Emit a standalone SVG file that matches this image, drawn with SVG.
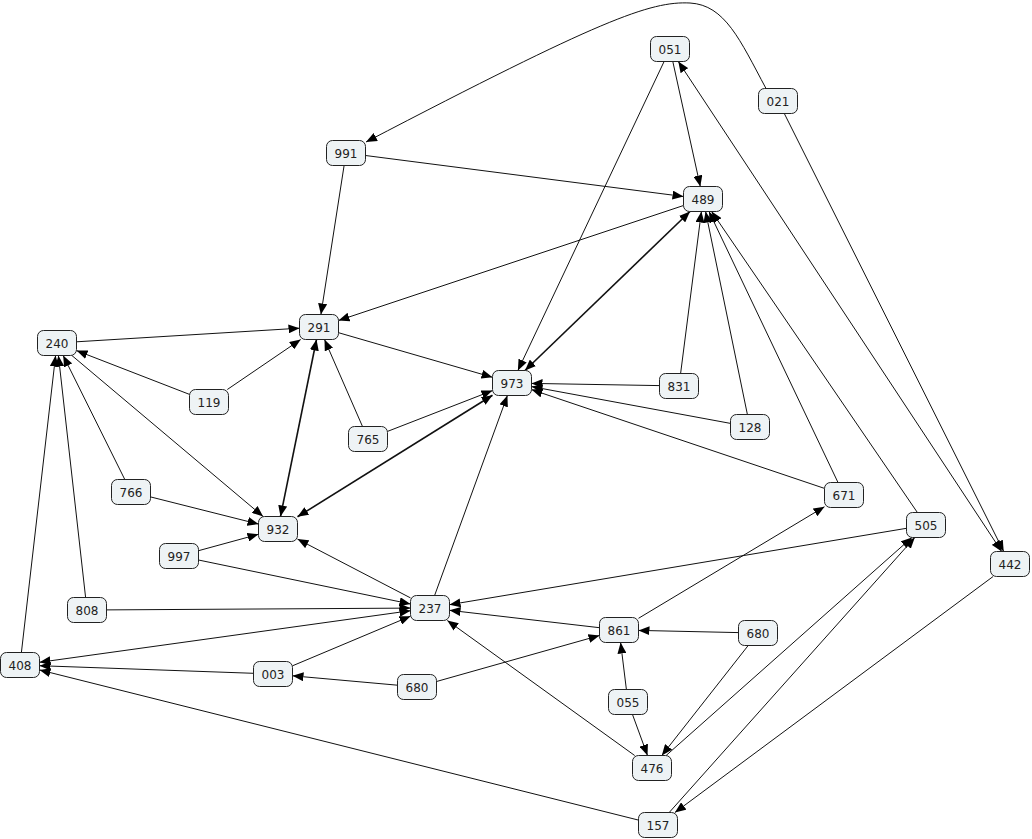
<svg xmlns="http://www.w3.org/2000/svg" width="1032" height="839" viewBox="0 0 1032 839">
<style>
.e{fill:none;stroke:#111;stroke-width:1;marker-end:url(#a)}
.t{fill:none;stroke:#111;stroke-width:1;marker-end:url(#a);marker-start:url(#a)}
.b{fill:none;stroke:#111;stroke-width:1.6;marker-end:url(#a);marker-start:url(#a)}
.n rect{fill:#eef3f5;stroke:#222;stroke-width:1}
.n text{font-family:"DejaVu Sans",Verdana,sans-serif;font-size:12px;fill:#222;text-anchor:middle}
</style>
<defs>
<marker id="a" markerUnits="userSpaceOnUse" markerWidth="11" markerHeight="9" viewBox="0 0 11 9" refX="11" refY="4.5" orient="auto-start-reverse"><path d="M0,0 L11,4.5 L0,9 z" fill="#000"/></marker>
</defs>
<rect width="1032" height="839" fill="#fff"/>
<g id="connectors">
<path class="e" d="M766,88.5 C740,40 725,5 690,3 C650,1 600,20 366,142"/>
<path class="e" d="M784.3,113.5 L1003.7,551.5"/>
<path class="t" d="M678.3,61.5 L1001.7,551.5"/>
<path class="e" d="M672.8,61.5 L700.3,186.5"/>
<path class="e" d="M664.1,61.5 L517.9,370.5"/>
<path class="e" d="M365.5,155.5 L683.5,196.5"/>
<path class="e" d="M344.1,165.5 L320.9,314.5"/>
<path class="e" d="M683.5,205.5 L338.5,320.5"/>
<path class="b" d="M690,211.5 L525,370.5"/>
<path class="e" d="M680.6,373.5 L701.4,211.5"/>
<path class="e" d="M659.5,385.6 L531.5,383.4"/>
<path class="e" d="M747.4,414.5 L705.6,211.5"/>
<path class="e" d="M730.5,423.4 L531.5,386.6"/>
<path class="e" d="M838,482.5 L709,211.5"/>
<path class="e" d="M824.5,488.4 L531.5,389.6"/>
<path class="e" d="M917.4,512.5 L711.6,211.5"/>
<path class="e" d="M76.5,341.8 L299.5,328.2"/>
<path class="e" d="M189.5,394.4 L76.5,350.6"/>
<path class="e" d="M227.3,389.5 L300.7,339.5"/>
<path class="e" d="M71.9,355.5 L263.1,516.5"/>
<path class="e" d="M124.8,479.5 L63.2,355.5"/>
<path class="e" d="M150.5,496.9 L258.5,524.1"/>
<path class="e" d="M85.6,597.5 L58.4,355.5"/>
<path class="e" d="M106.5,609.9 L410.5,608.1"/>
<path class="e" d="M21.4,652.5 L55.6,355.5"/>
<path class="b" d="M316.5,339.5 L280.5,516.5"/>
<path class="e" d="M362.5,426.5 L324.5,339.5"/>
<path class="e" d="M387.5,431.4 L492.5,390.6"/>
<path class="e" d="M338.5,332.7 L492.5,377.3"/>
<path class="b" d="M297.5,516.8 L492.5,395.2"/>
<path class="e" d="M198.5,550.7 L258.5,534.3"/>
<path class="e" d="M198.5,560 L410.5,604"/>
<path class="e" d="M410.5,597.9 L297.5,539.1"/>
<path class="e" d="M434.6,595.5 L507.4,395.5"/>
<path class="t" d="M39.5,662.3 L410.5,610.7"/>
<path class="e" d="M253.5,673.3 L39.5,665.7"/>
<path class="e" d="M292.5,665.8 L410.5,616.2"/>
<path class="e" d="M397.5,685.2 L292.5,675.8"/>
<path class="e" d="M436.5,681.5 L599.5,635.5"/>
<path class="e" d="M599.5,627.7 L449.5,610.3"/>
<path class="e" d="M638.5,618.3 L824.5,506.7"/>
<path class="e" d="M906.5,528.3 L449.5,604.7"/>
<path class="e" d="M634.7,755.5 L447.3,620.5"/>
<path class="e" d="M738.5,632.6 L638.5,630.4"/>
<path class="e" d="M748.2,645.5 L661.8,755.5"/>
<path class="e" d="M626.4,689.5 L620.6,642.5"/>
<path class="e" d="M632.5,714.5 L647.5,755.5"/>
<path class="e" d="M666.1,755.5 L911.9,537.5"/>
<path class="e" d="M669.2,812.5 L914.8,537.5"/>
<path class="e" d="M638.5,820.1 L39.5,669.9"/>
<path class="e" d="M993.1,576.5 L674.9,812.5"/>
</g>
<g id="nodes">
<g id="n051" class="n"><rect x="650.5" y="36.5" width="39" height="25" rx="6"/><text x="670" y="53.5">051</text></g>
<g id="n021" class="n"><rect x="758.5" y="88.5" width="39" height="25" rx="6"/><text x="778" y="105.5">021</text></g>
<g id="n991" class="n"><rect x="326.5" y="140.5" width="39" height="25" rx="6"/><text x="346" y="157.5">991</text></g>
<g id="n489" class="n"><rect x="683.5" y="186.5" width="39" height="25" rx="6"/><text x="703" y="203.5">489</text></g>
<g id="n291" class="n"><rect x="299.5" y="314.5" width="39" height="25" rx="6"/><text x="319" y="331.5">291</text></g>
<g id="n240" class="n"><rect x="37.5" y="330.5" width="39" height="25" rx="6"/><text x="57" y="347.5">240</text></g>
<g id="n973" class="n"><rect x="492.5" y="370.5" width="39" height="25" rx="6"/><text x="512" y="387.5">973</text></g>
<g id="n831" class="n"><rect x="659.5" y="373.5" width="39" height="25" rx="6"/><text x="679" y="390.5">831</text></g>
<g id="n119" class="n"><rect x="189.5" y="389.5" width="39" height="25" rx="6"/><text x="209" y="406.5">119</text></g>
<g id="n128" class="n"><rect x="730.5" y="414.5" width="39" height="25" rx="6"/><text x="750" y="431.5">128</text></g>
<g id="n765" class="n"><rect x="348.5" y="426.5" width="39" height="25" rx="6"/><text x="368" y="443.5">765</text></g>
<g id="n766" class="n"><rect x="111.5" y="479.5" width="39" height="25" rx="6"/><text x="131" y="496.5">766</text></g>
<g id="n671" class="n"><rect x="824.5" y="482.5" width="39" height="25" rx="6"/><text x="844" y="499.5">671</text></g>
<g id="n505" class="n"><rect x="906.5" y="512.5" width="39" height="25" rx="6"/><text x="926" y="529.5">505</text></g>
<g id="n932" class="n"><rect x="258.5" y="516.5" width="39" height="25" rx="6"/><text x="278" y="533.5">932</text></g>
<g id="n997" class="n"><rect x="159.5" y="543.5" width="39" height="25" rx="6"/><text x="179" y="560.5">997</text></g>
<g id="n442" class="n"><rect x="990.5" y="551.5" width="39" height="25" rx="6"/><text x="1010" y="568.5">442</text></g>
<g id="n237" class="n"><rect x="410.5" y="595.5" width="39" height="25" rx="6"/><text x="430" y="612.5">237</text></g>
<g id="n808" class="n"><rect x="67.5" y="597.5" width="39" height="25" rx="6"/><text x="87" y="614.5">808</text></g>
<g id="n861" class="n"><rect x="599.5" y="617.5" width="39" height="25" rx="6"/><text x="619" y="634.5">861</text></g>
<g id="n680b" class="n"><rect x="738.5" y="620.5" width="39" height="25" rx="6"/><text x="758" y="637.5">680</text></g>
<g id="n408" class="n"><rect x="0.5" y="652.5" width="39" height="25" rx="6"/><text x="20" y="669.5">408</text></g>
<g id="n003" class="n"><rect x="253.5" y="661.5" width="39" height="25" rx="6"/><text x="273" y="678.5">003</text></g>
<g id="n680a" class="n"><rect x="397.5" y="674.5" width="39" height="25" rx="6"/><text x="417" y="691.5">680</text></g>
<g id="n055" class="n"><rect x="608.5" y="689.5" width="39" height="25" rx="6"/><text x="628" y="706.5">055</text></g>
<g id="n476" class="n"><rect x="632.5" y="755.5" width="39" height="25" rx="6"/><text x="652" y="772.5">476</text></g>
<g id="n157" class="n"><rect x="638.5" y="812.5" width="39" height="25" rx="6"/><text x="658" y="829.5">157</text></g>
</g>
</svg>
